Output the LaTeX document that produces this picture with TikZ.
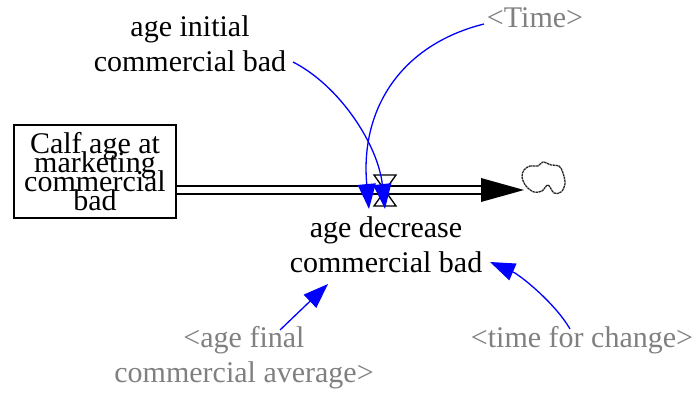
\documentclass[tikz,border=0pt]{standalone}
\usepackage{fontspec}
\setmainfont{Liberation Serif}
\newfontfamily\labelfont{Liberation Serif}
\newcommand{\tightlines}{\lineskiplimit=-100pt\relax}
\usetikzlibrary{arrows.meta}

\begin{document}
\begin{tikzpicture}[x=1pt,y=-1pt,
  every node/.style={font=\labelfont\fontsize{30}{35}\selectfont, align=center, inner sep=0pt},
  shadow/.style={text=gray},
  link/.style={blue, line width=1.3pt, -{Triangle[length=25pt,width=18pt]}}]
  \useasboundingbox (0,0) rectangle (692,396);

  \node[draw, line width=1.3pt, minimum width=162pt, minimum height=93pt,
    font=\labelfont\fontsize{30}{19}\selectfont\tightlines] at (95,171.5) (calf) {Calf age at\\marketing\\commercial\\bad};
  \node at (386,245) (decrease) {age decrease\\commercial bad};
  \node at (190,44) (initial) {age initial\\commercial bad};
  \node[shadow] at (535,18) (time) {<Time>};
  \node[shadow] at (244,358) (final) {<age final\\commercial average>};
  \node[shadow] at (582,340) (change) {<time for change>};

  \coordinate (valve) at (385,190);
  \coordinate (head) at (482,190);
  \coordinate (sink) at (524,190);

  \draw[double distance=6pt, line width=1.8pt] (calf.east |- valve) -- (head);
  \fill (481,178) -- (sink) -- (481,202) -- cycle;
  \draw[line width=1.3pt, fill=white] (374,175) -- (396,175) -- (374,206) -- (396,206) -- cycle;
  \draw[line width=1.3pt, black!85, dash pattern=on 2.5pt off 0.6pt] plot[smooth cycle, tension=0.6] coordinates
    {(524,170) (530,166) (538,166) (543,162) (551,165) (559,166) (563,173) (565,184) (561,192) (554,193) (548,185) (542,191) (534,192) (526,186) (522,177)};

  \coordinate (initial out) at (293,62);
  \coordinate (time out) at (484,24);
  \coordinate (final out) at (280,330);
  \coordinate (change out) at (570,329);
  \coordinate (valve in1) at (385,209);
  \coordinate (valve in2) at (369,209);
  \coordinate (decrease in1) at (328,284);
  \coordinate (decrease in2) at (490,262);

  \draw[link] (initial out) .. controls (340,86) and (378,145) .. (valve in1);
  \draw[link] (time out) .. controls (400,45) and (360,110) .. (valve in2);
  \draw[link] (final out) -- (decrease in1);
  \draw[link] (change out) .. controls (555,303) and (520,275) .. (decrease in2);

\end{tikzpicture}
\end{document}
